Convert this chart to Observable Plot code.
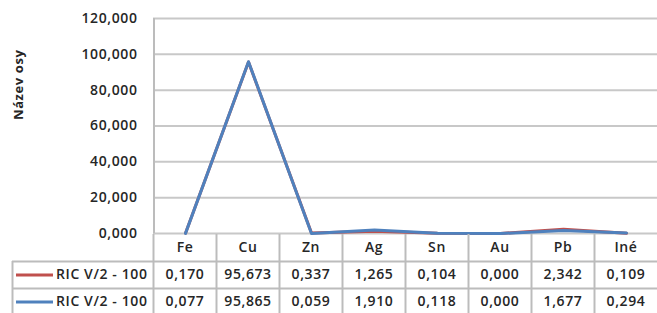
<!DOCTYPE html>
<html><head><meta charset="utf-8">
<script src="https://cdn.jsdelivr.net/npm/d3@7"></script>
<script src="https://cdn.jsdelivr.net/npm/@observablehq/plot@0.6"></script>
<style>
html,body{margin:0;padding:0;background:#fff;}
svg{display:block;}
</style></head><body>
<script>
const categories = ["Fe","Cu","Zn","Ag","Sn","Au","Pb","Iné"];
const seriesNames = ["RIC V/2 - 100","RIC V/2 - 100"];
const seriesA = [0.170,95.673,0.337,1.265,0.104,0.000,2.342,0.109];
const seriesB = [0.077,95.865,0.059,1.910,0.118,0.000,1.677,0.294];
const seriesColors = ["#C0504D","#4F81BD"];
const yTicks = [0,20,40,60,80,100,120];
const yTitle = "Název osy";

const W = 657, left = 153, tableLeft = 12;
const gridColor = "#c8c8c8", borderColor = "#bcbcbc";
const fmt = d => d3.format(".3f")(d).replace(".", ",");
const step = (W - left) / categories.length;
const rowsA = categories.map((c, i) => ({cat: c, v: seriesA[i]}));
const rowsB = categories.map((c, i) => ({cat: c, v: seriesB[i]}));
const css = "font-family:'Open Sans',sans-serif;font-size:14px;font-weight:600;color:#262626;letter-spacing:0.6px;background:#fff;overflow:visible;";

const chart = Plot.plot({
  width: W, height: 234, marginLeft: left, marginRight: 0, marginTop: 18, marginBottom: 1,
  style: css,
  x: {type: "point", domain: categories, padding: 0.5, axis: null},
  y: {domain: [0, 120], ticks: yTicks, tickFormat: fmt, tickSize: 0, tickPadding: 16, label: null},
  marks: [
    Plot.ruleY(yTicks, {stroke: gridColor, strokeWidth: 2}),
    Plot.ruleX([categories[0]], {dx: -step / 2, stroke: borderColor, strokeWidth: 2}),
    Plot.line(rowsA, {x: "cat", y: "v", stroke: seriesColors[0], strokeWidth: 3}),
    Plot.line(rowsB, {x: "cat", y: "v", stroke: seriesColors[1], strokeWidth: 3}),
    Plot.text([yTitle], {text: d => d, frameAnchor: "left", rotate: -90, dx: -135, dy: -6, fontWeight: 700, fontSize: 13})
  ]
});

const legendCols = (left - tableLeft) / step;
const seriesRows = [seriesA, seriesB];
const table = Plot.plot({
  width: W, height: 79, marginLeft: tableLeft, marginRight: 0, marginTop: 0, marginBottom: 0,
  style: css,
  x: {domain: [-legendCols, categories.length], axis: null},
  y: {domain: [0, 3], range: [0, 81], axis: null},
  marks: [
    Plot.ruleY([1, 2], {stroke: borderColor, strokeWidth: 2}),
    Plot.ruleX(categories.map((c, i) => i), {y1: 0, y2: 3, stroke: borderColor, strokeWidth: 2}),
    Plot.ruleX([-legendCols], {y1: 1, y2: 3, stroke: borderColor, strokeWidth: 2}),
    Plot.text(categories, {x: (d, i) => i + 0.5, y: 0.5, text: d => d}),
    ...seriesRows.map((vals, r) =>
      Plot.text(vals, {x: (d, i) => i + 0.5, y: r + 1.5, text: fmt})),
    Plot.ruleY(seriesNames, {y: (d, i) => i + 1.5, x1: -(left - 16) / step, x2: -(left - 53) / step,
      stroke: (d, i) => seriesColors[i], strokeWidth: 3}),
    Plot.text(seriesNames, {x: 0, y: (d, i) => i + 1.5, dx: -6, textAnchor: "end", text: d => d})
  ]
});

document.body.append(chart, table);
</script>
</body></html>
